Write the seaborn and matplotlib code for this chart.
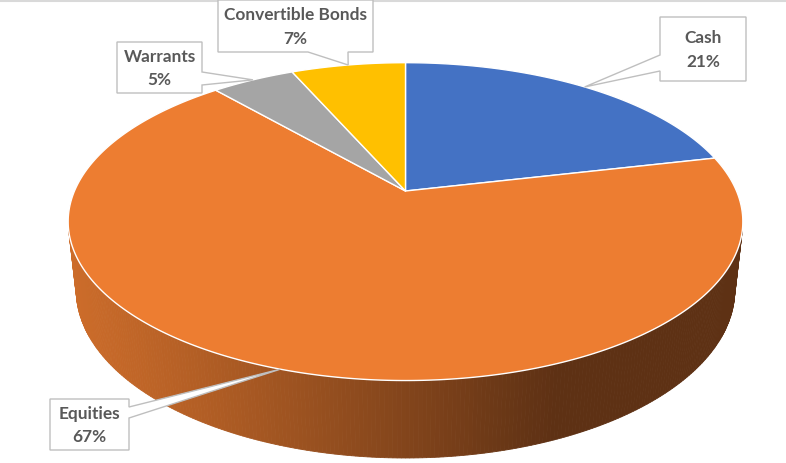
import numpy as np
import matplotlib
matplotlib.use("Agg")
import matplotlib.pyplot as plt
import seaborn as sns
from matplotlib.patches import Polygon

# ---- data (shares; labels are rounded) ----
categories = ["Cash", "Equities", "Warrants", "Convertible Bonds"]
values = [21.4, 67.2, 4.8, 6.6]
colors = ["#4472C4", "#ED7D31", "#A5A5A5", "#FFC000"]

# ---- label layout (pixel positions) ----
label_centers = [(703, 49), (89.5, 424.5), (159.5, 67.5), (295.5, 26)]
label_sizes = [(86, 64), (79, 51), (85, 51), (155, 52)]
label_sides = ["left", "right", "right", "bottom"]
label_bases = [(55, 71), (407, 418), (72, 85), (308, 348)]

sns.set_theme(style="white")
plt.rcParams["font.family"] = ["Lato", "DejaVu Sans"]

W, H = 786, 463
fig = plt.figure(figsize=(W / 100, H / 100), dpi=100)
ax = fig.add_axes([0, 0, 1, 1])
ax.set_xlim(0, W)
ax.set_ylim(H, 0)
ax.axis("off")

# ---- perspective geometry ----
CX, CY, SCALE = 405.5, 191.0, 1524.0
SIN_E = 0.4623
COS_E = np.sqrt(1 - SIN_E ** 2)
DIST = 4.604
DEPTH = 0.2345


def project(X, Y, z=0.0):
    d = DIST + Y * COS_E - z * SIN_E
    sx = X / d
    sy = (Y * SIN_E + z * COS_E) / d
    return CX + SCALE * sx, CY - SCALE * sy


def proj_theta(t, z=0.0):
    return project(np.sin(t), np.cos(t), z)


total = float(sum(values))
fracs = np.array(values) / total
starts = np.concatenate([[0], np.cumsum(fracs)[:-1]]) * 2 * np.pi
ends = np.cumsum(fracs) * 2 * np.pi

# visible wall range (contour generators)
ta = np.arccos(-1.0 / (DIST * COS_E))
tb = 2 * np.pi - ta

light = np.array([204, 108, 42]) / 255
dark = np.array([94, 49, 20]) / 255


def wall_color(x):
    f = np.clip((x - 68) / (555 - 68), 0, 1) ** 1.1
    return light * (1 - f) + dark * f


for s, e, c in zip(starts, ends, colors):
    lo, hi = max(s, ta), min(e, tb)
    if hi <= lo:
        continue
    n = max(2, int((hi - lo) / (2 * np.pi) * 600))
    ts = np.linspace(lo, hi, n + 1)
    for t0, t1 in zip(ts[:-1], ts[1:]):
        p0 = proj_theta(t0)
        p1 = proj_theta(t1)
        q1 = proj_theta(t1, -DEPTH)
        q0 = proj_theta(t0, -DEPTH)
        col = wall_color((p0[0] + p1[0]) / 2)
        ax.add_patch(Polygon([p0, p1, q1, q0], closed=True, facecolor=col,
                             edgecolor=col, lw=0.6, zorder=1))

# top faces
for s, e, c in zip(starts, ends, colors):
    ts = np.linspace(s, e, max(3, int((e - s) / (2 * np.pi) * 720)))
    pts = [project(0, 0)] + [proj_theta(t) for t in ts]
    ax.add_patch(Polygon(pts, closed=True, facecolor=c, edgecolor="white",
                         lw=1.0, joinstyle="round", zorder=3))

# callout labels
for name, v, s, e, (cx, cy), (bw, bh), side, (b1, b2) in zip(
        categories, values, starts, ends, label_centers, label_sizes,
        label_sides, label_bases):
    ax_, ay_ = proj_theta((s + e) / 2)
    x0, x1 = cx - bw / 2, cx + bw / 2
    y0, y1 = cy - bh / 2, cy + bh / 2
    if side == "left":
        pts = [(x0, y0), (x1, y0), (x1, y1), (x0, y1), (x0, b2), (ax_, ay_), (x0, b1)]
    elif side == "right":
        pts = [(x0, y0), (x1, y0), (x1, b1), (ax_, ay_), (x1, b2), (x1, y1), (x0, y1)]
    else:
        pts = [(x0, y0), (x1, y0), (x1, y1), (b2, y1), (ax_, ay_), (b1, y1), (x0, y1)]
    ax.add_patch(Polygon(pts, closed=True, facecolor="white", edgecolor="#BFBFBF",
                         lw=1.0, zorder=5))
    pct = int(np.floor(v / total * 100 + 0.5))
    ax.text(cx, cy + 1 - 11.75, name, ha="center", va="center", fontsize=12.4,
            fontweight="bold", color="#595959", zorder=6)
    ax.text(cx, cy + 1 + 11.75, f"{pct}%", ha="center", va="center", fontsize=12.4,
            fontweight="bold", color="#595959", zorder=6)

ax.plot([0, W], [0.6, 0.6], color="#D9D9D9", lw=1.5, zorder=0)

fig.savefig("out.png", dpi=100)
